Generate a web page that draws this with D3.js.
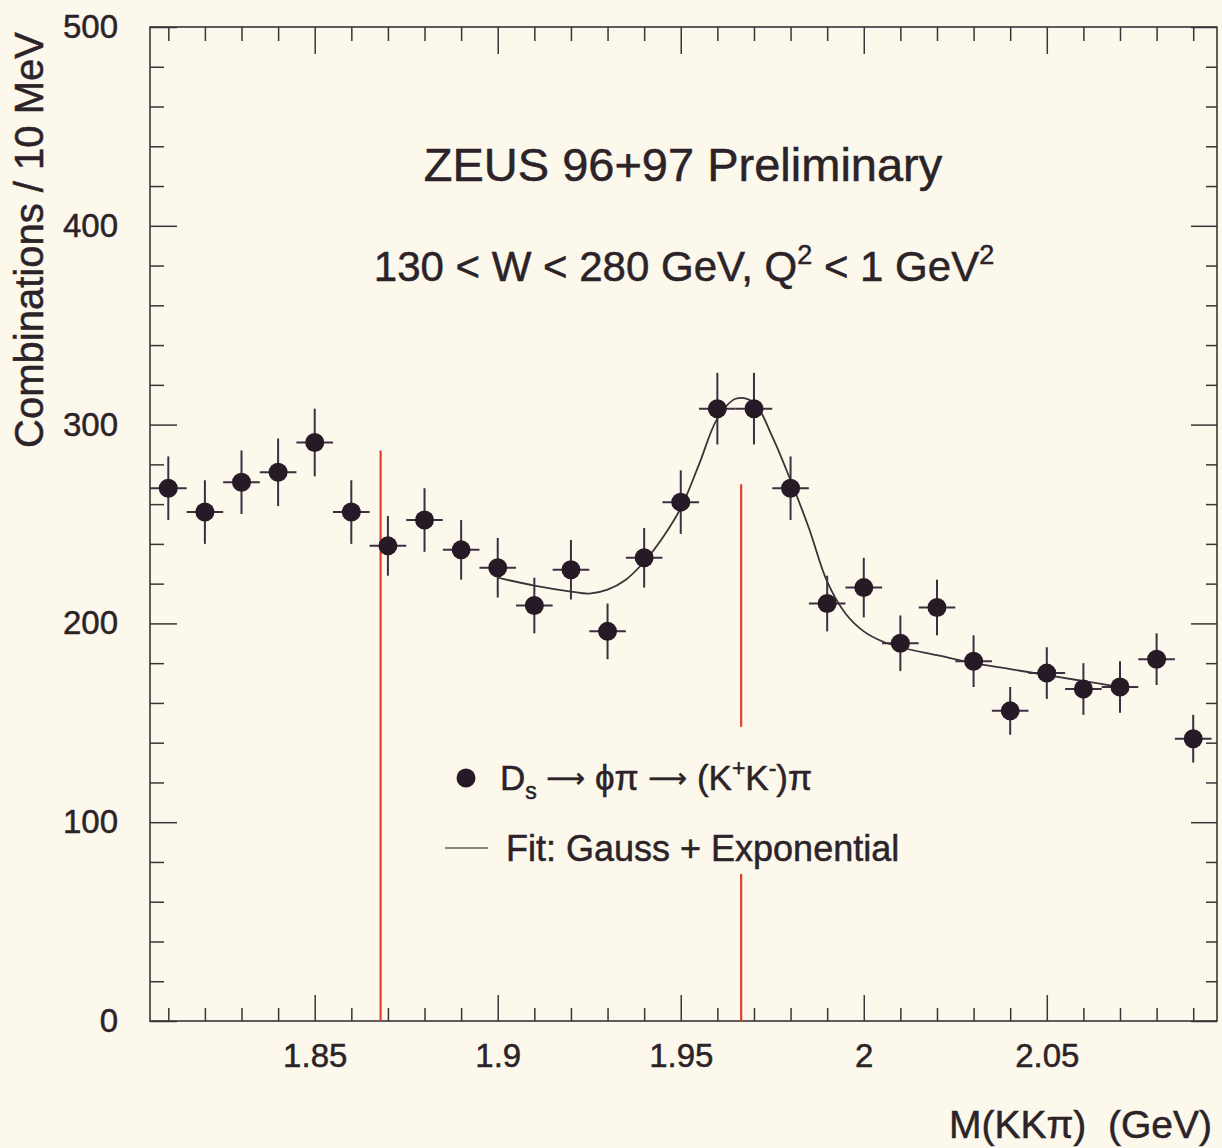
<!DOCTYPE html>
<html>
<head>
<meta charset="utf-8">
<script src="https://cdn.jsdelivr.net/npm/d3@7"></script>
<style>
  body { margin: 0; background: #fcf8ec; }
  svg { display: block; font-family: "Liberation Sans", Arial, sans-serif; }
  .txt { stroke: #2b2328; stroke-width: 0.5px; }
</style>
</head>
<body>
<div id="chart"></div>
<script>
// bin centres (GeV) and entries per 10 MeV bin
const masses = [1.81, 1.82, 1.83, 1.84, 1.85, 1.86, 1.87, 1.88, 1.89, 1.90,
                1.91, 1.92, 1.93, 1.94, 1.95, 1.96, 1.97, 1.98, 1.99, 2.00,
                2.01, 2.02, 2.03, 2.04, 2.05, 2.06, 2.07, 2.08, 2.09];
const counts = [268, 256, 271, 276, 291, 256, 239, 252, 237, 228,
                209, 227, 196, 233, 261, 308, 308, 268, 210, 218,
                190, 208, 181, 156, 175, 167, 168, 182, 142];
const errors = [16, 16, 16, 17, 17, 16, 15, 16, 15, 15,
                14, 15, 14, 15, 16, 18, 18, 16, 14, 15,
                14, 14, 13, 12, 13, 13, 13, 13, 12];
const binWidth = 0.01;

// fit curve
const fitMass = [1.900, 1.910, 1.920, 1.925, 1.930, 1.935, 1.940, 1.945, 1.950, 1.955,
                 1.960, 1.965, 1.970, 1.975, 1.980, 1.985, 1.990, 1.995, 2.000, 2.005,
                 2.010, 2.020, 2.030, 2.040, 2.050, 2.060, 2.070];
const fitValue = [223, 219, 216, 215, 217, 222, 231, 243, 258, 280,
                  303, 313, 311, 294, 272, 248, 221, 205, 196, 191,
                  188, 184, 180, 177, 174, 171, 168];

// red marker lines: mass, lower and upper value
const redMass = [1.868, 1.9665, 1.9665];
const redLow = [0, 0, 148];
const redHigh = [287, 74, 270];

const xMajor = [1.85, 1.9, 1.95, 2, 2.05];
const xMinor = [1.81, 1.82, 1.83, 1.84, 1.86, 1.87, 1.88, 1.89, 1.91, 1.92, 1.93, 1.94,
                1.96, 1.97, 1.98, 1.99, 2.01, 2.02, 2.03, 2.04, 2.06, 2.07, 2.08, 2.09];
const yMajor = [0, 100, 200, 300, 400, 500];
const yMinor = [20, 40, 60, 80, 120, 140, 160, 180, 220, 240, 260, 280,
                320, 340, 360, 380, 420, 440, 460, 480];

const W = 1222, H = 1148;
const mLeft = 150, mRight = 1217, mTop = 27, mBottom = 1021;
const ink = "#2b2328";

const svg = d3.select("#chart")
  .append("svg")
    .attr("width", W)
    .attr("height", H);

svg.append("rect")
  .attr("width", W)
  .attr("height", H)
  .attr("fill", "#fcf8ec");

const x = d3.scaleLinear()
  .domain([1.805, 2.0965])
  .range([mLeft, mRight]);

const y = d3.scaleLinear()
  .domain([0, 500])
  .range([mBottom, mTop]);

function styleAxis(g) {
  g.select(".domain").remove();
  g.selectAll(".tick line").attr("stroke", "#3a3438").attr("stroke-width", 1.5);
  g.selectAll("text").attr("fill", ink).attr("class", "txt").style("font-size", "33px");
}

// bottom axis
svg.append("g")
  .attr("transform", "translate(0," + mBottom + ")")
  .call(d3.axisBottom(x).tickValues(xMinor).tickSize(-13).tickFormat(""))
  .call(styleAxis);
svg.append("g")
  .attr("transform", "translate(0," + mBottom + ")")
  .call(d3.axisBottom(x).tickValues(xMajor).tickSize(-26).tickPadding(23).tickFormat(d => String(d)))
  .call(styleAxis);

// top axis
svg.append("g")
  .attr("transform", "translate(0," + mTop + ")")
  .call(d3.axisTop(x).tickValues(xMinor).tickSize(-14).tickFormat(""))
  .call(styleAxis);
svg.append("g")
  .attr("transform", "translate(0," + mTop + ")")
  .call(d3.axisTop(x).tickValues(xMajor).tickSize(-27).tickFormat(""))
  .call(styleAxis);

// left axis
svg.append("g")
  .attr("transform", "translate(" + mLeft + ",0)")
  .call(d3.axisLeft(y).tickValues(yMinor).tickSize(-14).tickFormat(""))
  .call(styleAxis);
svg.append("g")
  .attr("transform", "translate(" + mLeft + ",0)")
  .call(d3.axisLeft(y).tickValues(yMajor).tickSize(-27).tickPadding(32).tickFormat(d3.format("d")))
  .call(styleAxis);

// right axis
svg.append("g")
  .attr("transform", "translate(" + mRight + ",0)")
  .call(d3.axisRight(y).tickValues(yMinor).tickSize(-11).tickFormat(""))
  .call(styleAxis);
svg.append("g")
  .attr("transform", "translate(" + mRight + ",0)")
  .call(d3.axisRight(y).tickValues(yMajor).tickSize(-26).tickFormat(""))
  .call(styleAxis);

// frame
svg.append("rect")
  .attr("x", mLeft)
  .attr("y", mTop)
  .attr("width", mRight - mLeft)
  .attr("height", mBottom - mTop)
  .attr("fill", "none")
  .attr("stroke", "#3a3438")
  .attr("stroke-width", 1.6);

// red lines
svg.selectAll(".redline")
  .data(redMass)
  .enter()
  .append("line")
    .attr("class", "redline")
    .attr("x1", d => x(d))
    .attr("x2", d => x(d))
    .attr("y1", (d, i) => y(redLow[i]))
    .attr("y2", (d, i) => y(redHigh[i]))
    .attr("stroke", "#e2402e")
    .attr("stroke-width", 2.2);

// fit curve
const fitData = fitMass.map((m, i) => ({m: m, v: fitValue[i]}));
svg.append("path")
  .datum(fitData)
  .attr("fill", "none")
  .attr("stroke", "#3a3438")
  .attr("stroke-width", 1.8)
  .attr("d", d3.line()
    .x(d => x(d.m))
    .y(d => y(d.v))
    .curve(d3.curveCatmullRom.alpha(0.5))
  );

// data points with error bars
const pts = masses.map((m, i) => ({m: m, v: counts[i], e: errors[i]}));
const pg = svg.append("g");
pg.selectAll(".ex")
  .data(pts)
  .enter()
  .append("line")
    .attr("x1", d => x(d.m - binWidth / 2))
    .attr("x2", d => x(d.m + binWidth / 2))
    .attr("y1", d => y(d.v))
    .attr("y2", d => y(d.v))
    .attr("stroke", "#3a3040")
    .attr("stroke-width", 2);
pg.selectAll(".ey")
  .data(pts)
  .enter()
  .append("line")
    .attr("x1", d => x(d.m))
    .attr("x2", d => x(d.m))
    .attr("y1", d => y(d.v - d.e))
    .attr("y2", d => y(d.v + d.e))
    .attr("stroke", "#3a3040")
    .attr("stroke-width", 2);
pg.selectAll("circle")
  .data(pts)
  .enter()
  .append("circle")
    .attr("cx", d => x(d.m))
    .attr("cy", d => y(d.v))
    .attr("r", 9.5)
    .attr("fill", "#261a26");

// titles
svg.append("text")
  .attr("class", "txt")
  .attr("x", 683)
  .attr("y", 181)
  .attr("text-anchor", "middle")
  .attr("fill", ink)
  .style("font-size", "47px")
  .text("ZEUS 96+97 Preliminary");

const t2 = svg.append("text")
  .attr("class", "txt")
  .attr("x", 684)
  .attr("y", 281)
  .attr("text-anchor", "middle")
  .attr("fill", ink)
  .style("font-size", "42px");
t2.append("tspan").text("130 < W < 280 GeV, Q");
t2.append("tspan").attr("dy", -17).style("font-size", "27px").text("2");
t2.append("tspan").attr("dy", 17).text(" < 1 GeV");
t2.append("tspan").attr("dy", -17).style("font-size", "27px").text("2");

// legend
svg.append("circle")
  .attr("cx", 466)
  .attr("cy", 778)
  .attr("r", 9.5)
  .attr("fill", "#261a26");
const l1 = svg.append("text")
  .attr("class", "txt")
  .attr("x", 500)
  .attr("y", 790)
  .attr("fill", ink)
  .style("font-size", "35px");
l1.append("tspan").text("D");
l1.append("tspan").attr("dy", 9).style("font-size", "23px").text("s");
l1.append("tspan").attr("dy", -9).text(" ");
l1.append("tspan").attr("dy", -3).style("font-family", "'DejaVu Sans'").style("font-size", "27px").text("\u27f6");
l1.append("tspan").attr("dy", 3).text(" \u03d5\u03c0 ");
l1.append("tspan").attr("dy", -3).style("font-family", "'DejaVu Sans'").style("font-size", "27px").text("\u27f6");
l1.append("tspan").attr("dy", 3).text(" (K");
l1.append("tspan").attr("dy", -14).style("font-size", "23px").text("+");
l1.append("tspan").attr("dy", 14).text("K");
l1.append("tspan").attr("dy", -14).style("font-size", "23px").text("-");
l1.append("tspan").attr("dy", 14).text(")\u03c0");

svg.append("line")
  .attr("x1", 445)
  .attr("x2", 488)
  .attr("y1", 848)
  .attr("y2", 848)
  .attr("stroke", "#8a8484")
  .attr("stroke-width", 2);
svg.append("text")
  .attr("class", "txt")
  .attr("x", 506)
  .attr("y", 861)
  .attr("fill", ink)
  .style("font-size", "36px")
  .text("Fit: Gauss + Exponential");

// axis titles
svg.append("text")
  .attr("class", "txt")
  .attr("x", 1212)
  .attr("y", 1138)
  .attr("text-anchor", "end")
  .attr("fill", ink)
  .style("font-size", "39px")
  .style("white-space", "pre")
  .text("M(KK\u03c0)  (GeV)");

svg.append("text")
  .attr("class", "txt")
  .attr("transform", "translate(43,240) rotate(-90)")
  .attr("text-anchor", "middle")
  .attr("fill", ink)
  .style("font-size", "40px")
  .text("Combinations / 10 MeV");
</script>
</body>
</html>
